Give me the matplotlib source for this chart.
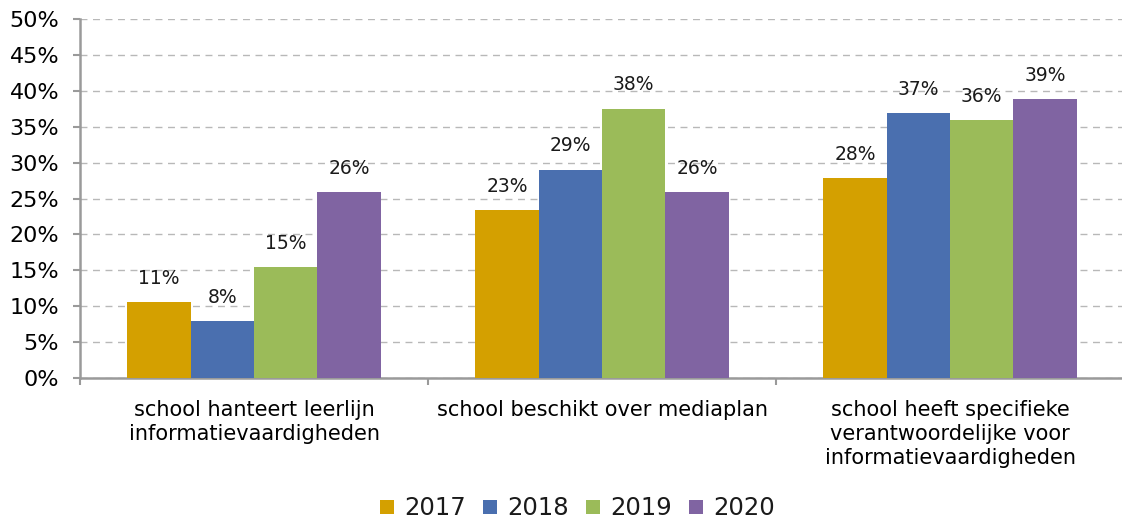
import matplotlib

matplotlib.use("Agg")
import matplotlib.pyplot as plt
import numpy as np
from matplotlib.ticker import FuncFormatter, MultipleLocator

categories = [
    "school hanteert leerlijn\ninformatievaardigheden",
    "school beschikt over mediaplan",
    "school heeft specifieke\nverantwoordelijke voor\ninformatievaardigheden",
]
years = ["2017", "2018", "2019", "2020"]
v2017 = [10.6, 23.4, 27.8]
v2018 = [7.9, 29.0, 36.9]
v2019 = [15.4, 37.5, 35.9]
v2020 = [25.9, 25.9, 38.8]
labels2017 = ["11%", "23%", "28%"]
labels2018 = ["8%", "29%", "37%"]
labels2019 = ["15%", "38%", "36%"]
labels2020 = ["26%", "26%", "39%"]

COLORS = ["#D4A000", "#4A6FAF", "#9BBB59", "#8064A2"]
GRID = "#b8b8b8"
AXIS = "#9a9a9a"
TXT = "#1a1a1a"

plt.rcParams.update({"font.family": "DejaVu Sans", "text.color": TXT})

fig = plt.figure(figsize=(11.22, 5.23), dpi=100)
ax = fig.add_axes([0.0713, 0.2772, 0.9305, 0.6865])

x = np.arange(len(categories))
w = 0.182
series = [v2017, v2018, v2019, v2020]
texts = [labels2017, labels2018, labels2019, labels2020]
for i, (vals, labs, col, yr) in enumerate(zip(series, texts, COLORS, years)):
    pos = x + (i - 1.5) * w
    ax.bar(pos, vals, width=w, color=col, label=yr, zorder=3)
    for px, v, lab in zip(pos, vals, labs):
        ax.text(px, v + 2.0, lab, ha="center", va="bottom", fontsize=13.5, color=TXT)

ax.set_xlim(-0.5, 2.5)
ax.set_ylim(0, 50)
ax.yaxis.set_major_locator(MultipleLocator(5))
ax.yaxis.set_major_formatter(FuncFormatter(lambda v, _: f"{v:.0f}%"))
ax.grid(axis="y", color=GRID, linestyle=(0, (5, 4)), linewidth=1.0, zorder=0)
ax.set_axisbelow(True)

ax.set_xticks(x)
ax.set_xticklabels(categories, fontsize=15, linespacing=1.25)
ax.tick_params(axis="x", which="major", length=0, pad=16)
ax.set_xticks([-0.5, 0.5, 1.5], minor=True)
ax.tick_params(axis="x", which="minor", length=5, width=1.5, color=AXIS, direction="out")
ax.tick_params(axis="y", length=5, width=1.5, color=AXIS, labelsize=16, pad=10)

for s in ("top", "right"):
    ax.spines[s].set_visible(False)
for s in ("left", "bottom"):
    ax.spines[s].set_color(AXIS)
    ax.spines[s].set_linewidth(1.8)

fig.legend(loc="lower center", bbox_to_anchor=(0.515, -0.037), ncol=4, frameon=False,
           fontsize=17.5, handlelength=0.55, handleheight=0.55, handletextpad=0.45,
           columnspacing=0.7)

fig.savefig("out.png", dpi=100)
